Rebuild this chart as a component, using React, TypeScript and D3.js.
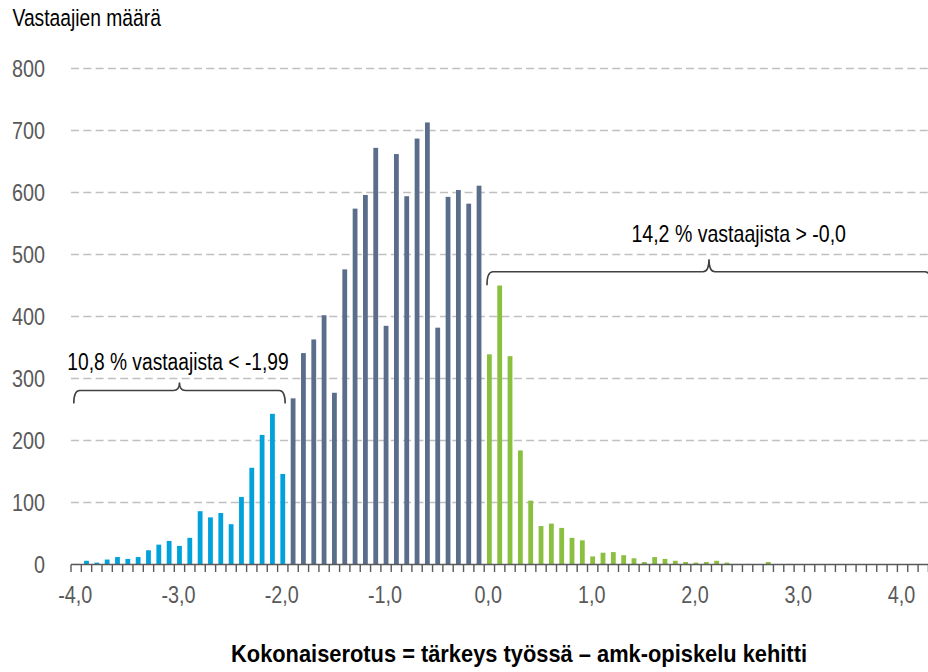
import React from "react";
import * as d3 from "d3";

const categories: number[] = d3.range(-40, 43).map((i) => i / 10);
const counts: number[] = [
  1, 6, 3, 8, 12, 9, 12, 23, 32, 38,
  30, 43, 86, 76, 83, 65, 109, 156, 209, 243,
  146, 268, 341, 363, 402, 277, 476, 574, 596, 672,
  385, 662, 594, 687, 713, 382, 593, 604, 582, 611,
  339, 450, 336, 184, 103, 62, 66, 59, 43, 39,
  13, 19, 20, 15, 10, 4, 12, 9, 6, 4,
  3, 4, 6, 3, 1, 1, 0, 4, 0, 1,
  0, 0, 0, 0, 0, 0, 0, 0, 0, 0,
  0, 0, 0,
];
const yTicks: number[] = [0, 100, 200, 300, 400, 500, 600, 700, 800];
const xLabelValues: number[] = [-4, -3, -2, -1, 0, 1, 2, 3, 4];
const lowLimit = -2.0;
const highLimit = 0.0;
const yTitle = "Vastaajien määrä";
const xTitle = "Kokonaiserotus = tärkeys työssä – amk-opiskelu kehitti";
const lowNote = "10,8 % vastaajista < -1,99";
const highNote = "14,2 % vastaajista > -0,0";

const W = 928;
const H = 672;
const FONT = "'Liberation Sans', Arial, sans-serif";

const fmt = (v: number) => v.toFixed(1).replace(".", ",");
const key = (v: number) => v.toFixed(1);

type NTextProps = {
  x: number;
  y: number;
  anchor?: "start" | "middle" | "end";
  size?: number;
  fill?: string;
  bold?: boolean;
  sx?: number;
  dy?: string;
  children: React.ReactNode;
};

function NText({ x, y, anchor = "start", size = 23, fill = "#000", bold = false, sx = 0.82, dy, children }: NTextProps) {
  return (
    <text
      transform={`translate(${x},${y}) scale(${sx},1)`}
      textAnchor={anchor}
      fontSize={size}
      fontWeight={bold ? "bold" : "normal"}
      fill={fill}
      dy={dy}
    >
      {children}
    </text>
  );
}

export default function App() {
  const x = d3
    .scaleBand<string>()
    .domain(categories.map(key))
    .range([71, 928.4])
    .paddingInner(0.535)
    .paddingOuter(0.2675);
  const y = d3.scaleLinear().domain([0, 800]).range([564.5, 68.5]);
  const step = x.step();
  const x0 = 71;
  const x1 = 928.4;

  const color = (v: number) =>
    v <= lowLimit + 1e-9 ? "#00a2dc" : v < highLimit - 1e-9 ? "#5a6e8c" : "#8bbf40";

  const bracket = (a: number, b: number, yb: number, drop: number, notch: number) => {
    const m = (a + b) / 2;
    const r = 6;
    return `M${a},${yb + drop} Q${a},${yb} ${a + r},${yb} L${m - r},${yb} Q${m},${yb} ${m},${yb - notch} Q${m},${yb} ${m + r},${yb} L${b - r},${yb} Q${b},${yb} ${b},${yb + drop}`;
  };

  const lowStart = x(key(categories[0]))!;
  const lowEnd = x(key(lowLimit))! + x.bandwidth();
  const highStart = x(key(highLimit))!;
  const highEnd = x1 + 2.6;

  return (
    <svg
      width={W}
      height={H}
      style={{ position: "absolute", left: 0, top: 0, background: "#fff" }}
      fontFamily={FONT}
    >
      <rect width={W} height={H} fill="#fff" />
      {yTicks.filter((t) => t > 0).map((t) => (
        <line
          key={t}
          x1={x0}
          x2={W}
          y1={y(t)}
          y2={y(t)}
          stroke="#c0c0c0"
          strokeWidth={1.4}
          strokeDasharray="8 4.3"
        />
      ))}
      {yTicks.map((t) => (
        <NText key={t} x={45} y={y(t)} dy="0.36em" anchor="end" fill="#595959" sx={0.86}>
          {t}
        </NText>
      ))}
      <NText x={12.5} y={26} size={23.5}>
        {yTitle}
      </NText>
      {categories.map((c, i) => (
        <rect
          key={key(c)}
          x={x(key(c))}
          y={y(counts[i])}
          width={x.bandwidth()}
          height={y(0) - y(counts[i])}
          fill={color(c)}
        />
      ))}
      <line x1={x0} x2={W} y1={y(0)} y2={y(0)} stroke="#595959" strokeWidth={1.6} />
      {d3.range(0, categories.length + 1).map((i) => (
        <line
          key={i}
          x1={x0 + i * step}
          x2={x0 + i * step}
          y1={y(0)}
          y2={y(0) + 7.5}
          stroke="#595959"
          strokeWidth={1.4}
        />
      ))}
      {xLabelValues.map((v) => (
        <NText key={v} x={x(key(v))! + x.bandwidth() / 2 - 1} y={603} anchor="middle" fill="#595959" sx={0.86}>
          {fmt(v)}
        </NText>
      ))}
      <path d={bracket(lowStart, lowEnd, 390.5, 13, 8)} fill="none" stroke="#404040" strokeWidth={1.6} />
      <path d={bracket(highStart, highEnd, 271.7, 13.5, 12.5)} fill="none" stroke="#404040" strokeWidth={1.6} />
      <NText x={(lowStart + lowEnd) / 2 - 1.5} y={370} anchor="middle" sx={0.835}>
        {lowNote}
      </NText>
      <NText x={738.7} y={241.7} anchor="middle" sx={0.85}>
        {highNote}
      </NText>
      <NText x={519} y={661.7} anchor="middle" bold sx={0.95}>
        {xTitle}
      </NText>
    </svg>
  );
}
